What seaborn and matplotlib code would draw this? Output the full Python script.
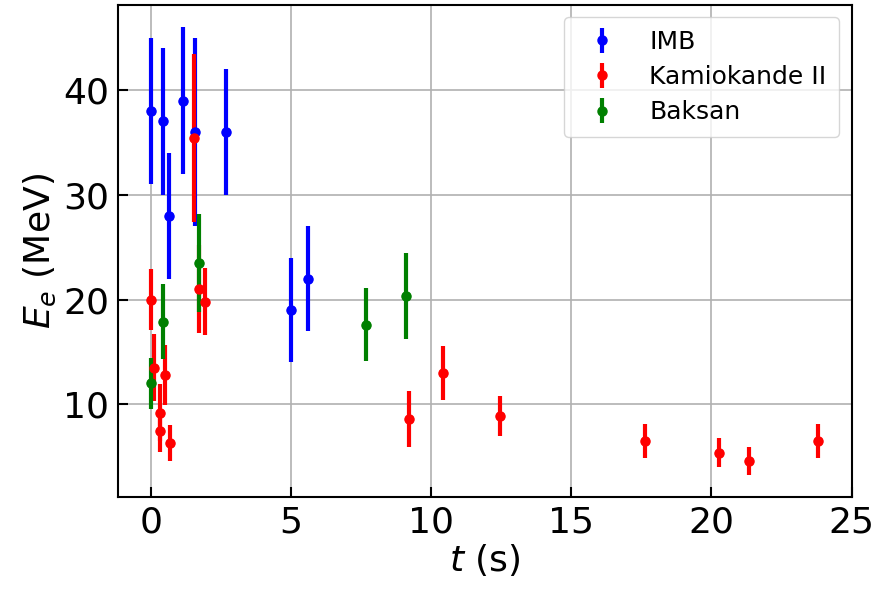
import numpy as np
import pandas as pd
import matplotlib
matplotlib.use('Agg')
import matplotlib.pyplot as plt
import seaborn as sns

# SN1987A neutrino events: time (s), energy (MeV), energy error (MeV)
imb_t = [0.00, 0.42, 0.65, 1.15, 1.57, 2.69, 5.01, 5.59]
imb_e = [38, 37, 28, 39, 36, 36, 19, 22]
imb_err = [7, 7, 6, 7, 9, 6, 5, 5]

kam_t = [0.000, 0.107, 0.303, 0.324, 0.507, 0.686, 1.541, 1.728, 1.915,
         9.219, 10.433, 12.439, 17.641, 20.257, 21.355, 23.814]
kam_e = [20.0, 13.5, 7.5, 9.2, 12.8, 6.3, 35.4, 21.0, 19.8,
         8.6, 13.0, 8.9, 6.5, 5.4, 4.6, 6.5]
kam_err = [2.9, 3.2, 2.0, 2.7, 2.9, 1.7, 8.0, 4.2, 3.2,
           2.7, 2.6, 1.9, 1.6, 1.4, 1.3, 1.6]

bak_t = [0.000, 0.435, 1.710, 7.687, 9.099]
bak_e = [12.0, 17.9, 23.5, 17.6, 20.3]
bak_err = [2.4, 3.6, 4.7, 3.5, 4.1]

sns.set_theme(style="ticks")
plt.rcParams['font.family'] = ['DejaVu Sans']
plt.rcParams.update({'text.color': 'black', 'axes.labelcolor': 'black',
                     'xtick.color': 'black', 'ytick.color': 'black'})

fig, ax = plt.subplots(figsize=(8.78, 5.98), dpi=100)
fig.subplots_adjust(left=0.134, right=0.970, top=0.992, bottom=0.169)

sets = [("IMB", imb_t, imb_e, imb_err, "blue"),
        ("Kamiokande II", kam_t, kam_e, kam_err, "red"),
        ("Baksan", bak_t, bak_e, bak_err, "green")]

for name, t, e, err, c in sets:
    ax.errorbar(t, e, yerr=err, fmt='o', color=c, ms=6.5, elinewidth=3,
                capsize=0, label=name)
    df = pd.DataFrame({"t": t, "E": e})
    sns.scatterplot(data=df, x="t", y="E", color=c, s=45, linewidth=0,
                    legend=False, ax=ax)

ax.set_xticks([0, 5, 10, 15, 20, 25])
ax.set_yticks([10, 20, 30, 40])
ax.grid(True, color='#b0b0b0', linewidth=1.2)
ax.tick_params(direction='in', labelsize=26, length=7, width=1.5, pad=6)
for s in ax.spines.values():
    s.set_linewidth(1.5)
    s.set_color('black')
ax.set_xlabel(r"$t$ (s)", fontsize=26, labelpad=2)
ax.set_ylabel(r"$E_e$ (MeV)", fontsize=26, labelpad=4)
ax.legend(loc='upper right', fontsize=18, handletextpad=0.9,
          borderpad=0.5, labelspacing=0.45)

fig.savefig("out.png", dpi=100)
